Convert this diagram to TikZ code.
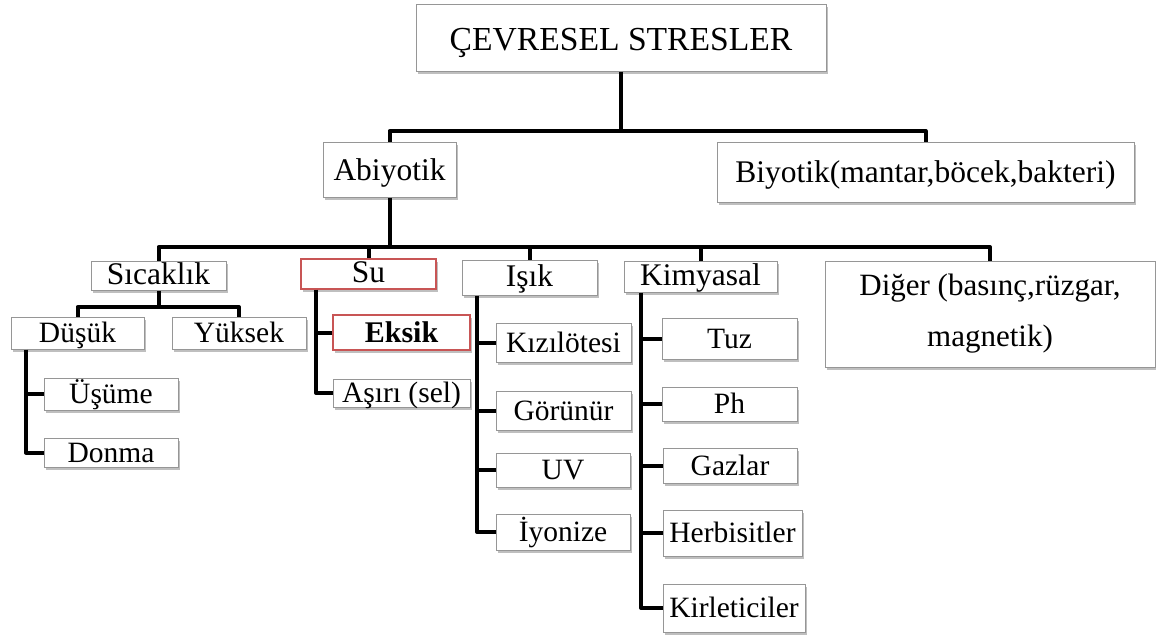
\documentclass[tikz,border=0pt]{standalone}
\usepackage{fontspec}
\setmainfont{Liberation Serif}
\usetikzlibrary{shadows}
\definecolor{boxline}{RGB}{150,150,150}
\definecolor{redline}{RGB}{200,85,85}
\definecolor{shade}{RGB}{175,175,175}
\begin{document}
\begin{tikzpicture}[x=1pt,y=-1pt,
  box/.style={draw=boxline, line width=1pt, fill=white, inner sep=0pt,
    drop shadow={shadow xshift=2pt, shadow yshift=-2.5pt, fill=shade, opacity=0.8}},
  redbox/.style={box, draw=redline, line width=1.4pt},
  sz/.style 2 args={minimum width=#1pt, minimum height=#2pt},
  ftop/.style={text height=28pt, text depth=3pt, font=\fontsize{33.6}{38}\selectfont},
  fone/.style={text height=25pt, text depth=4pt, font=\fontsize{31.5}{36}\selectfont},
  ftwo/.style={text height=22pt, text depth=5pt, font=\fontsize{31.5}{36}\selectfont},
  fdig/.style={font=\fontsize{31}{51}\selectfont, align=center},
  fthree/.style={text height=23pt, text depth=4pt, font=\fontsize{29.5}{32}\selectfont},
  conn/.style={line width=4pt, black, line join=round}]
\fill[white] (0,0) rectangle (1156,637);
\useasboundingbox (0,0) rectangle (1156,637);

% level 0 and 1
\node[box, ftop, sz={410}{67}] (top) at (621,37.5) {ÇEVRESEL STRESLER};
\node[box, fone, sz={133}{55}] (abi) at (389.5,169.5) {Abiyotik};
\node[box, fone, sz={417}{60}] (bio) at (925.5,172) {Biyotik(mantar,böcek,bakteri)};

% level 2
\node[box, ftwo, sz={135}{29}] (sic) at (158.5,275.5) {Sıcaklık};
\node[redbox, ftwo, sz={135}{30}] (su) at (368.5,274) {Su};
\node[box, ftwo, sz={135}{35}] (isik) at (529.5,277.5) {Işık};
\node[box, ftwo, sz={153}{31}] (kim) at (700.5,276.5) {Kimyasal};
\node[box, fdig, sz={330}{106}] (dig) at (990,314) {Diğer (basınç,rüzgar,\\magnetik)};

% level 3 - Sicaklik
\node[box, fthree, sz={133}{32}] (dus) at (77.5,333) {Düşük};
\node[box, fthree, sz={134}{32}] (yuk) at (239,333) {Yüksek};
\node[box, fthree, sz={134}{32}] (usu) at (111,394) {Üşüme};
\node[box, fthree, sz={134}{29}] (don) at (111,452.5) {Donma};

% Su
\node[redbox, fthree, sz={137}{35}, font=\fontsize{30}{34}\selectfont\bfseries] (eks) at (401.5,332.5) {Eksik};
\node[box, fthree, sz={137}{28}] (asi) at (401.5,393) {Aşırı (sel)};

% Isik
\node[box, fthree, sz={135}{39}] (kiz) at (563.5,342.5) {Kızılötesi};
\node[box, fthree, sz={135}{39}] (gor) at (563.5,410.5) {Görünür};
\node[box, fthree, sz={134}{34}] (uv) at (563,470) {UV};
\node[box, fthree, sz={134}{36}] (iyo) at (563,532) {İyonize};

% Kimyasal
\node[box, fthree, sz={135}{41}] (tuz) at (729.5,338.5) {Tuz};
\node[box, fthree, sz={135}{34}] (ph) at (729.5,404) {Ph};
\node[box, fthree, sz={134}{35}] (gaz) at (730,465.5) {Gazlar};
\node[box, fthree, sz={139}{46}] (her) at (732.5,533) {Herbisitler};
\node[box, fthree, sz={142}{48}] (kir) at (734,608) {Kirleticiler};

% bus coordinates
\coordinate (b1) at (621,131);
\coordinate (b2) at (0,247);
\coordinate (b3) at (0,307);
\coordinate (dx) at (26,0);
\coordinate (sx) at (316,0);
\coordinate (ix) at (477,0);
\coordinate (kx) at (641,0);

% connectors
\draw[conn] (top.south) -- (b1);
\draw[conn] (abi.north) |- (b1) -| (bio.north);
\draw[conn] (abi.south) -- (abi.south |- b2);
\draw[conn] (sic.north) |- (dig.north |- b2) -- (dig.north);
\draw[conn] (su.north) -- (su.north |- b2);
\draw[conn] (isik.north) -- (isik.north |- b2);
\draw[conn] (kim.north) -- (kim.north |- b2);

\draw[conn] (sic.south) -- (sic.south |- b3);
\draw[conn] (dus.north) |- (yuk.north |- b3) -- (yuk.north);
\draw[conn] (dus.south -| dx) |- (don.west);
\draw[conn] (usu.west) -- (usu.west -| dx);

\draw[conn] (su.south -| sx) |- (asi.west);
\draw[conn] (eks.west) -- (eks.west -| sx);

\draw[conn] (isik.south -| ix) |- (iyo.west);
\draw[conn] (kiz.west) -- (kiz.west -| ix);
\draw[conn] (gor.west) -- (gor.west -| ix);
\draw[conn] (uv.west) -- (uv.west -| ix);

\draw[conn] (kim.south -| kx) |- (kir.west);
\draw[conn] (tuz.west) -- (tuz.west -| kx);
\draw[conn] (ph.west) -- (ph.west -| kx);
\draw[conn] (gaz.west) -- (gaz.west -| kx);
\draw[conn] (her.west) -- (her.west -| kx);
\end{tikzpicture}
\end{document}
